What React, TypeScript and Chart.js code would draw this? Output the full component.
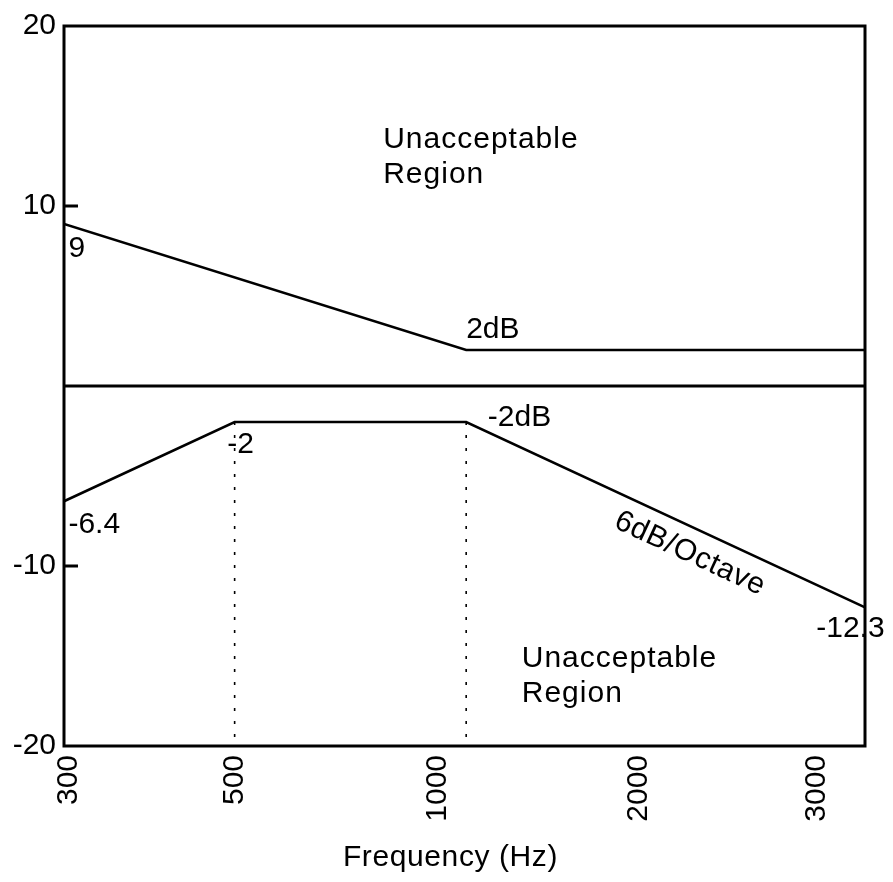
import React, { useEffect, useRef } from 'react';
import { Chart, registerables } from 'chart.js';

Chart.register(...registerables);

// ---- data ----
const upperFreq = [300, 1000, 3300];
const upperDb = [9, 2, 2];
const lowerFreq = [300, 500, 1000, 3300];
const lowerDb = [-6.4, -2, -2, -12.3];
const zeroFreq = [300, 3300];
const zeroDb = [0, 0];
const guideFreq = [500, 1000];
const guideTopDb = [-2, -2];

const xMin = 300;
const xMax = 3300;
const yMin = -20;
const yMax = 20;

// tick labels placed where the reference draws them on the log axis
const xTickValues = [304, 500, 919, 1675, 2859];
const xTickLabels = ['300', '500', '1000', '2000', '3000'];
const yTickValues = [-20, -10, 10, 20];
const yTickLabels = ['-20', '-10', '10', '20'];
const yTickMarks = [-10, 10];
const xTitle = 'Frequency (Hz)';

// annotations (anchor in data units: frequency, dB)
const noteTexts = [
  ['Unacceptable', 'Region'],
  ['Unacceptable', 'Region'],
  ['9'],
  ['2dB'],
  ['-2dB'],
  ['-2'],
  ['-6.4'],
  ['-12.3'],
];
const noteFreq = [780, 1181, 304, 1000, 1067, 489, 304, 2852];
const noteDb = [13.2, -15.6, 7.16, 2.68, -2.24, -3.73, -8.16, -13.94];
const noteSpaced = [true, true, false, false, false, false, false, false];
const slopeText = '6dB/Octave';
const slopeFreq = 1954;
const slopeDb = -9.32;

const family = '"Liberation Sans", Arial, Helvetica, sans-serif';
const fontSize = 30;

const toPts = (xs: number[], ys: number[]) => xs.map((x, i) => ({ x, y: ys[i] }));

const overlay = {
  id: 'overlay',
  afterDraw(chart: any) {
    const { ctx, chartArea: a, scales } = chart;
    const x = scales.x;
    const y = scales.y;
    ctx.save();
    ctx.fillStyle = '#000';
    ctx.font = `${fontSize}px ${family}`;
    ctx.textAlign = 'left';
    ctx.textBaseline = 'alphabetic';
    noteTexts.forEach((lines, i) => {
      (ctx as any).letterSpacing = noteSpaced[i] ? '1px' : '0px';
      const px = x.getPixelForValue(noteFreq[i]);
      const py = y.getPixelForValue(noteDb[i]);
      lines.forEach((t, j) => ctx.fillText(t, px, py + j * 35));
    });

    ctx.strokeStyle = '#000';
    ctx.lineWidth = 3;
    ctx.strokeRect(a.left, a.top, a.right - a.left, a.bottom - a.top);
    ctx.beginPath();
    for (const v of yTickMarks) {
      const py = y.getPixelForValue(v);
      ctx.moveTo(a.left, py);
      ctx.lineTo(a.left + 14, py);
    }
    ctx.stroke();

    // slope label along the falling segment
    const x1 = x.getPixelForValue(lowerFreq[2]);
    const y1 = y.getPixelForValue(lowerDb[2]);
    const x2 = x.getPixelForValue(lowerFreq[3]);
    const y2 = y.getPixelForValue(lowerDb[3]);
    const ang = Math.atan2(y2 - y1, x2 - x1);
    ctx.save();
    (ctx as any).letterSpacing = '0.6px';
    ctx.translate(x.getPixelForValue(slopeFreq), y.getPixelForValue(slopeDb));
    ctx.rotate(ang);
    ctx.textAlign = 'center';
    ctx.textBaseline = 'middle';
    ctx.fillText(slopeText, 0, 0);
    ctx.restore();

    // x axis title
    (ctx as any).letterSpacing = '0.6px';
    ctx.textAlign = 'center';
    ctx.textBaseline = 'middle';
    ctx.fillText(xTitle, (a.left + a.right) / 2 - 14, x.bottom - 24);
    ctx.restore();
  },
};

export default function App() {
  const ref = useRef<HTMLCanvasElement | null>(null);
  useEffect(() => {
    if (!ref.current) return;
    const lineBase = { pointRadius: 0, tension: 0, fill: false, borderColor: '#000' };
    const chart = new Chart(ref.current, {
      type: 'line',
      data: {
        datasets: [
          { ...lineBase, data: toPts(upperFreq, upperDb), borderWidth: 2.6 },
          { ...lineBase, data: toPts(lowerFreq, lowerDb), borderWidth: 2.6 },
          { ...lineBase, data: toPts(zeroFreq, zeroDb), borderWidth: 3 },
          ...guideFreq.map((f, i) => ({
            ...lineBase,
            data: [{ x: f, y: guideTopDb[i] }, { x: f, y: yMin }],
            borderWidth: 1.6,
            borderDash: [3, 10],
          })),
        ],
      },
      options: {
        responsive: false,
        animation: false,
        layout: { padding: { left: 0, top: 23, right: 28, bottom: 0 } },
        plugins: { legend: { display: false }, tooltip: { enabled: false } },
        scales: {
          x: {
            type: 'logarithmic',
            min: xMin,
            max: xMax,
            afterBuildTicks: (s: any) => {
              s.ticks = xTickValues.map((v) => ({ value: v }));
            },
            afterFit: (s: any) => {
              s.height = 136;
            },
            ticks: {
              callback: (_v: any, i: number) => xTickLabels[i],
              minRotation: 90,
              maxRotation: 90,
              autoSkip: false,
              padding: 9,
              color: '#000',
              font: { size: fontSize, family },
            },
            grid: { display: false, drawTicks: false },
            border: { display: false },
          },
          y: {
            type: 'linear',
            min: yMin,
            max: yMax,
            afterBuildTicks: (s: any) => {
              s.ticks = yTickValues.map((v) => ({ value: v }));
            },
            afterFit: (s: any) => {
              s.width = 64;
            },
            ticks: {
              callback: (_v: any, i: number) => yTickLabels[i],
              padding: 8,
              color: '#000',
              font: { size: fontSize, family },
            },
            grid: { display: false, drawTicks: false },
            border: { display: false },
          },
        },
      } as any,
      plugins: [overlay],
    });
    return () => chart.destroy();
  }, []);
  return (
    <canvas
      ref={ref}
      width={893}
      height={882}
      style={{ position: 'absolute', left: 0, top: 0, display: 'block', background: '#fff' }}
    />
  );
}
